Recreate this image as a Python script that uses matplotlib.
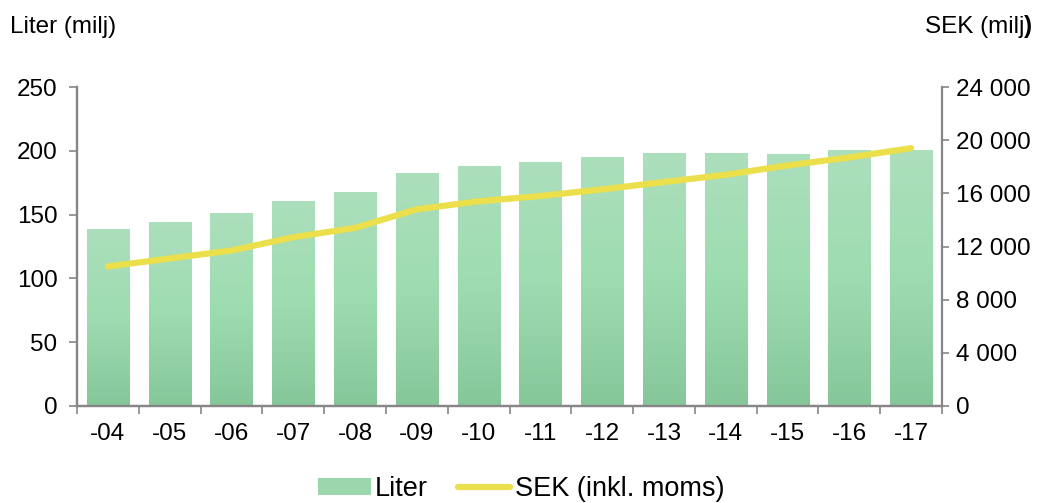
import matplotlib.pyplot as plt
import numpy as np
from matplotlib.patches import Patch
from matplotlib.lines import Line2D
from matplotlib.colors import LinearSegmentedColormap

plt.rcParams['font.family'] = ['Liberation Sans', 'DejaVu Sans']

years = ["-04", "-05", "-06", "-07", "-08", "-09", "-10", "-11", "-12", "-13", "-14", "-15", "-16", "-17"]
liter = [138, 144, 151, 160, 167, 182, 188, 191, 195, 198, 198, 197, 200, 200]
sek = [10500, 11100, 11700, 12700, 13400, 14800, 15400, 15800, 16300, 16850, 17400, 18100, 18700, 19400]

grey = "#868686"
fs = 17.5

fig = plt.figure(figsize=(10.39, 5.03), dpi=100)
ax = fig.add_axes([77 / 1039, 97 / 503, 865 / 1039, 319 / 503])
ax2 = ax.twinx()

x = np.arange(len(years))
bw = 0.68
bars = ax.bar(x, liter, width=bw, color="none", edgecolor="none")

# vertical green gradient in every bar
cmap = LinearSegmentedColormap.from_list("grn", ["#86c79a", "#9ddcb0", "#acdfbc"])
grad = np.linspace(0, 1, 256).reshape(-1, 1)
for b in bars:
    x0, h = b.get_x(), b.get_height()
    ax.imshow(grad, cmap=cmap, aspect="auto", origin="lower",
              extent=(x0, x0 + bw, 0, h), zorder=2)

ax.set_xlim(-0.5, len(years) - 0.5)
ax.set_ylim(0, 250)
ax.set_yticks(range(0, 251, 50))
ax.set_xticks(x)
ax.set_xticklabels(years)
ax.set_xticks(np.arange(-0.5, len(years), 1), minor=True)
ax.tick_params(axis="x", which="major", length=0, pad=12, labelsize=fs)
ax.tick_params(axis="x", which="minor", length=6, width=1.2, color=grey, direction="out")
ax.tick_params(axis="y", length=6, width=1.2, color=grey, labelsize=fs, pad=8)

ax2.plot(x, sek, color="#ebdf4b", lw=4.5, solid_capstyle="round", zorder=3)
ax2.set_ylim(0, 24000)
ax2.set_yticks(range(0, 24001, 4000))
ax2.set_yticklabels([f"{v:,}".replace(",", " ") for v in range(0, 24001, 4000)])
ax2.tick_params(axis="y", length=5, width=1.2, color=grey, labelsize=fs, pad=5)

for a in (ax, ax2):
    a.spines["top"].set_visible(False)
    for s in ("left", "right", "bottom"):
        a.spines[s].set_color(grey)
        a.spines[s].set_linewidth(1.6)
ax.spines["right"].set_visible(False)

fig.text(10 / 1039, 1 - 27 / 503, "Liter (milj)", fontsize=fs, va="center", ha="left")
fig.text(1024 / 1039, 1 - 27 / 503, "SEK (milj", fontsize=fs, va="center", ha="right")
fig.text(1024 / 1039, 1 - 27 / 503, ")", fontsize=fs, va="center", ha="left", fontweight="bold")

handles = [Patch(facecolor="#9cd6ad", edgecolor="none"),
           Line2D([0], [0], color="#ebdf4b", lw=4.5, solid_capstyle="round")]
fig.legend(handles, ["Liter", "SEK (inkl. moms)"], loc="center", bbox_to_anchor=(521 / 1039, 1 - 489 / 503),
           ncol=2, frameon=False, fontsize=19.5, handlelength=1.95, handletextpad=0.15,
           columnspacing=1.1, handleheight=0.6)

fig.savefig("out.png", dpi=100)
